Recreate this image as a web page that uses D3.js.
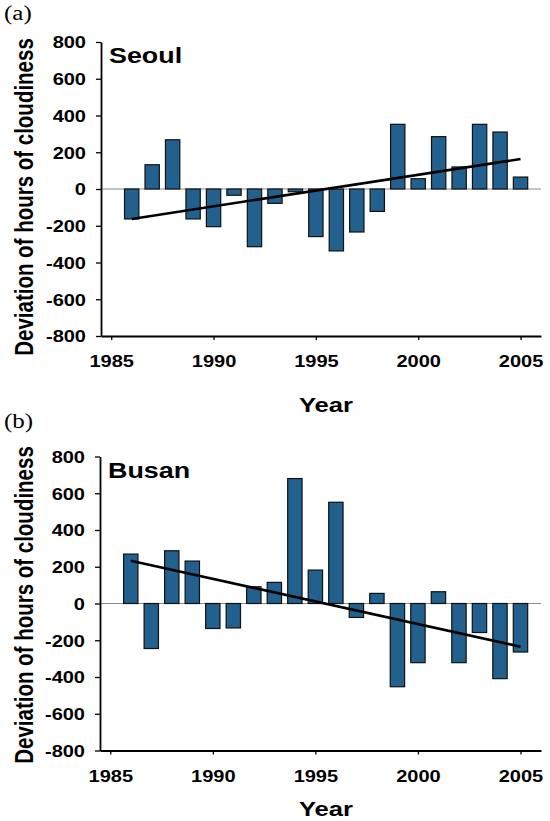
<!DOCTYPE html>
<meta charset='utf-8'>
<style>
  body { margin: 0; background: #fff; }
  svg { font-family: 'Liberation Sans', Arial, sans-serif; }
  .tick line { stroke: #000; stroke-width: 1.3; }
  .domain { stroke: #000; stroke-width: 1.8; }
</style>
<svg width='550' height='821'></svg>
<script src="https://cdnjs.cloudflare.com/ajax/libs/d3/7.8.5/d3.min.js"></script>
<script>
  // data
  var years = [1986, 1987, 1988, 1989, 1990, 1991, 1992, 1993, 1994, 1995,
               1996, 1997, 1998, 1999, 2000, 2001, 2002, 2003, 2004, 2005];
  var seoul = [-163, 132, 268, -163, -205, -34, -314, -78, -15, -259,
               -337, -234, -122, 352, 56, 285, 120, 352, 310, 65];
  var busan = [269, -245, 287, 231, -136, -133, 91, 115, 680, 182,
               551, -76, 55, -453, -322, 64, -322, -158, -409, -264];
  var trendYears = [1986, 2005];
  var seoulTrend = [-163, 163];
  var busanTrend = [233, -235];
  var xTicks = [1985, 1990, 1995, 2000, 2005];
  var yTicks = [-800, -600, -400, -200, 0, 200, 400, 600, 800];

  var svg = d3.select('svg');
  var stretch = 1.25;   // the original is squeezed wider than it is tall

  function drawPanel(p) {
    var x = d3.scaleLinear().domain([1984.5, 2006]).range([p.left, 541]);
    var y = d3.scaleLinear().domain([-800, 800]).range([p.top + 294, p.top]);
    var g = svg.append('g');

    // zero line
    g.append('line')
      .attr('x1', p.left).attr('x2', 541)
      .attr('y1', y(0)).attr('y2', y(0))
      .attr('stroke', '#8a8a8a').attr('stroke-width', 1.2);

    var bw = (x(1) - x(0)) * 0.7;
    g.selectAll('.bar').data(p.values).enter().append('rect')
      .attr('class', 'bar')
      .attr('x', function(d, i) { return x(years[i]) - bw / 2; })
      .attr('width', bw)
      .attr('y', function(d) { return y(Math.max(0, d)); })
      .attr('height', function(d) { return Math.abs(y(d) - y(0)); })
      .attr('fill', '#22608e')
      .attr('stroke', '#111')
      .attr('stroke-width', 1.2);

    // trend line
    var line = d3.line()
      .x(function(d, i) { return x(trendYears[i]); })
      .y(function(d) { return y(d); });
    g.append('path')
      .datum(p.trend)
      .attr('d', line)
      .attr('fill', 'none')
      .attr('stroke', '#000')
      .attr('stroke-width', 2.6);

    // axes
    var ya = g.append('g')
      .attr('transform', 'translate(' + p.left + ',0)')
      .call(d3.axisLeft(y).tickValues(yTicks).tickSize(5).tickSizeOuter(0)
        .tickFormat(function(d) { return String(d); }));
    ya.selectAll('text')
      .attr('x', 0).attr('dy', '0.36em')
      .attr('transform', 'translate(-15,0) scale(' + stretch + ',1)');

    var xa = g.append('g')
      .attr('transform', 'translate(0,' + y(-800) + ')')
      .call(d3.axisBottom(x).tickValues(xTicks).tickSize(4).tickSizeOuter(0)
        .tickFormat(function(d) { return String(d); }));
    xa.selectAll('text')
      .attr('y', 20).attr('dy', '0.71em')
      .attr('transform', 'scale(' + stretch + ',1)');

    svg.selectAll('.tick text')
      .attr('font-size', 16)
      .attr('font-weight', 'bold')
      .attr('font-family', "'Liberation Sans', Arial, sans-serif")
      .attr('fill', '#000');

    // city name
    g.append('text')
      .attr('transform', 'translate(' + (p.left + 8) + ',' + (p.top + 21) + ') scale(' + stretch + ',1)')
      .attr('font-size', 21.5).attr('font-weight', 'bold')
      .text(p.name);

    // axis titles
    g.append('text')
      .attr('transform', 'translate(326,' + (y(-800) + p.yearDy) + ') scale(' + stretch + ',1)')
      .attr('text-anchor', 'middle')
      .attr('font-size', 20.5).attr('font-weight', 'bold')
      .text('Year');

    g.append('text')
      .attr('transform', 'translate(33,' + p.labelY + ') scale(' + stretch + ',1) rotate(-90)')
      .attr('text-anchor', 'middle')
      .attr('font-size', 20.5).attr('font-weight', 'bold')
      .text('Deviation of hours of cloudiness');

    // panel letter
    g.append('text')
      .attr('transform', 'translate(4,' + p.letterY + ') scale(' + stretch + ',1)')
      .attr('font-family', "'Liberation Serif', 'Times New Roman', serif")
      .attr('font-size', 20)
      .text(p.letter);
  }

  drawPanel({ name: 'Seoul', values: seoul, trend: seoulTrend, left: 101, top: 42,
              labelY: 197, letterY: 19.5, letter: '(a)', yearDy: 75.5 });
  drawPanel({ name: 'Busan', values: busan, trend: busanTrend, left: 100, top: 456.5,
              labelY: 605, letterY: 428, letter: '(b)', yearDy: 65.5 });
</script>
